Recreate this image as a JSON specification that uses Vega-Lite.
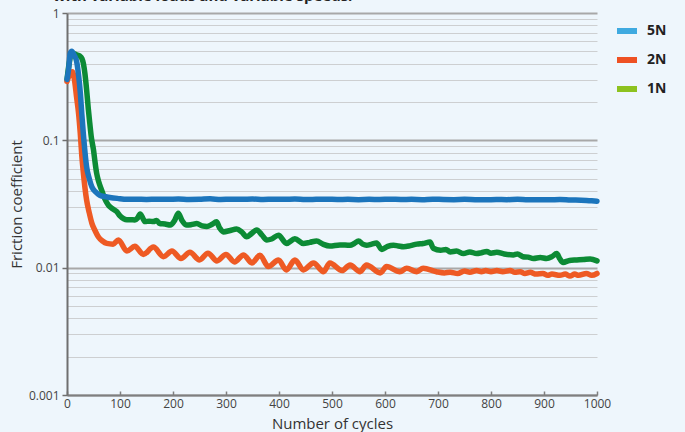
{
  "$schema": "https://vega.github.io/schema/vega-lite/v6.json",
  "autosize": {"type": "none"},
  "padding": {"left": 67, "top": 13, "right": 88, "bottom": 37},
  "width": 530,
  "height": 382,
  "background": "#EEF6FC",
  "title": {"text": "with variable loads and variable speeds.", "anchor": "start", "frame": "group", "offset": 3, "dx": -14, "fontSize": 15, "fontWeight": "bold", "font": "Open Sans", "color": "#222222"},
  "config": {"view": {"stroke": null}, "font": "Open Sans"},
  "data": {"values": [
    {"c":0,"v":0.30,"s":"5N"},{"c":3,"v":0.36,"s":"5N"},{"c":6,"v":0.48,"s":"5N"},{"c":9,"v":0.50,"s":"5N"},{"c":13,"v":0.47,"s":"5N"},{"c":18,"v":0.42,"s":"5N"},{"c":22,"v":0.32,"s":"5N"},{"c":25,"v":0.24,"s":"5N"},{"c":28,"v":0.16,"s":"5N"},{"c":31,"v":0.11,"s":"5N"},{"c":34,"v":0.08,"s":"5N"},{"c":37,"v":0.062,"s":"5N"},{"c":42,"v":0.05,"s":"5N"},{"c":47,"v":0.043,"s":"5N"},{"c":55,"v":0.039,"s":"5N"},{"c":62,"v":0.037,"s":"5N"},{"c":70,"v":0.0362,"s":"5N"},{"c":81,"v":0.0356,"s":"5N"},{"c":95,"v":0.035,"s":"5N"},{"c":113,"v":0.0344,"s":"5N"},{"c":130,"v":0.0345,"s":"5N"},{"c":150,"v":0.0343,"s":"5N"},{"c":170,"v":0.0345,"s":"5N"},{"c":190,"v":0.0344,"s":"5N"},{"c":210,"v":0.0346,"s":"5N"},{"c":230,"v":0.0343,"s":"5N"},{"c":250,"v":0.0344,"s":"5N"},{"c":270,"v":0.0347,"s":"5N"},{"c":290,"v":0.0343,"s":"5N"},{"c":310,"v":0.0345,"s":"5N"},{"c":330,"v":0.0344,"s":"5N"},{"c":350,"v":0.0346,"s":"5N"},{"c":370,"v":0.0343,"s":"5N"},{"c":390,"v":0.0345,"s":"5N"},{"c":410,"v":0.0344,"s":"5N"},{"c":430,"v":0.0346,"s":"5N"},{"c":450,"v":0.0343,"s":"5N"},{"c":470,"v":0.0344,"s":"5N"},{"c":490,"v":0.0345,"s":"5N"},{"c":510,"v":0.0343,"s":"5N"},{"c":530,"v":0.0344,"s":"5N"},{"c":550,"v":0.0342,"s":"5N"},{"c":570,"v":0.0344,"s":"5N"},{"c":590,"v":0.0343,"s":"5N"},{"c":610,"v":0.0345,"s":"5N"},{"c":630,"v":0.0343,"s":"5N"},{"c":650,"v":0.0344,"s":"5N"},{"c":670,"v":0.0342,"s":"5N"},{"c":690,"v":0.0345,"s":"5N"},{"c":710,"v":0.0343,"s":"5N"},{"c":730,"v":0.0342,"s":"5N"},{"c":750,"v":0.0344,"s":"5N"},{"c":770,"v":0.0342,"s":"5N"},{"c":790,"v":0.0341,"s":"5N"},{"c":810,"v":0.0343,"s":"5N"},{"c":830,"v":0.0342,"s":"5N"},{"c":850,"v":0.0344,"s":"5N"},{"c":870,"v":0.0341,"s":"5N"},{"c":890,"v":0.0342,"s":"5N"},{"c":910,"v":0.0341,"s":"5N"},{"c":930,"v":0.0343,"s":"5N"},{"c":950,"v":0.034,"s":"5N"},{"c":970,"v":0.0339,"s":"5N"},{"c":985,"v":0.0336,"s":"5N"},{"c":1000,"v":0.0333,"s":"5N"},
    {"c":0,"v":0.29,"s":"2N"},{"c":5,"v":0.33,"s":"2N"},{"c":10,"v":0.345,"s":"2N"},{"c":14,"v":0.30,"s":"2N"},{"c":18,"v":0.22,"s":"2N"},{"c":22,"v":0.16,"s":"2N"},{"c":25,"v":0.114,"s":"2N"},{"c":28,"v":0.075,"s":"2N"},{"c":31,"v":0.055,"s":"2N"},{"c":34,"v":0.042,"s":"2N"},{"c":37,"v":0.034,"s":"2N"},{"c":42,"v":0.027,"s":"2N"},{"c":47,"v":0.0223,"s":"2N"},{"c":53,"v":0.0195,"s":"2N"},{"c":59,"v":0.0175,"s":"2N"},{"c":67,"v":0.0162,"s":"2N"},{"c":75,"v":0.0155,"s":"2N"},{"c":87,"v":0.0153,"s":"2N"},{"c":97,"v":0.0165,"s":"2N"},{"c":113,"v":0.0135,"s":"2N"},{"c":128,"v":0.0147,"s":"2N"},{"c":144,"v":0.0127,"s":"2N"},{"c":163,"v":0.0145,"s":"2N"},{"c":182,"v":0.0122,"s":"2N"},{"c":198,"v":0.0135,"s":"2N"},{"c":215,"v":0.0118,"s":"2N"},{"c":232,"v":0.0132,"s":"2N"},{"c":250,"v":0.0115,"s":"2N"},{"c":266,"v":0.013,"s":"2N"},{"c":283,"v":0.0113,"s":"2N"},{"c":300,"v":0.0127,"s":"2N"},{"c":316,"v":0.0111,"s":"2N"},{"c":333,"v":0.0126,"s":"2N"},{"c":349,"v":0.0109,"s":"2N"},{"c":364,"v":0.0125,"s":"2N"},{"c":380,"v":0.0102,"s":"2N"},{"c":399,"v":0.0115,"s":"2N"},{"c":414,"v":0.0096,"s":"2N"},{"c":430,"v":0.0115,"s":"2N"},{"c":446,"v":0.0096,"s":"2N"},{"c":465,"v":0.0109,"s":"2N"},{"c":484,"v":0.0093,"s":"2N"},{"c":496,"v":0.0109,"s":"2N"},{"c":519,"v":0.0095,"s":"2N"},{"c":534,"v":0.0105,"s":"2N"},{"c":553,"v":0.0093,"s":"2N"},{"c":565,"v":0.0105,"s":"2N"},{"c":591,"v":0.0091,"s":"2N"},{"c":603,"v":0.0102,"s":"2N"},{"c":628,"v":0.0093,"s":"2N"},{"c":641,"v":0.0099,"s":"2N"},{"c":660,"v":0.0093,"s":"2N"},{"c":672,"v":0.0099,"s":"2N"},{"c":697,"v":0.0093,"s":"2N"},{"c":712,"v":0.0091,"s":"2N"},{"c":723,"v":0.0092,"s":"2N"},{"c":737,"v":0.0090,"s":"2N"},{"c":750,"v":0.0094,"s":"2N"},{"c":760,"v":0.0092,"s":"2N"},{"c":773,"v":0.0095,"s":"2N"},{"c":782,"v":0.0093,"s":"2N"},{"c":790,"v":0.0095,"s":"2N"},{"c":800,"v":0.0093,"s":"2N"},{"c":811,"v":0.0095,"s":"2N"},{"c":822,"v":0.0093,"s":"2N"},{"c":836,"v":0.0095,"s":"2N"},{"c":845,"v":0.0092,"s":"2N"},{"c":855,"v":0.0093,"s":"2N"},{"c":864,"v":0.009,"s":"2N"},{"c":874,"v":0.0092,"s":"2N"},{"c":885,"v":0.0089,"s":"2N"},{"c":898,"v":0.009,"s":"2N"},{"c":907,"v":0.0087,"s":"2N"},{"c":915,"v":0.0089,"s":"2N"},{"c":930,"v":0.0087,"s":"2N"},{"c":940,"v":0.0089,"s":"2N"},{"c":949,"v":0.0086,"s":"2N"},{"c":958,"v":0.0089,"s":"2N"},{"c":965,"v":0.0087,"s":"2N"},{"c":980,"v":0.009,"s":"2N"},{"c":990,"v":0.0087,"s":"2N"},{"c":1000,"v":0.009,"s":"2N"},
    {"c":0,"v":0.30,"s":"1N"},{"c":4,"v":0.40,"s":"1N"},{"c":8,"v":0.47,"s":"1N"},{"c":12,"v":0.48,"s":"1N"},{"c":18,"v":0.47,"s":"1N"},{"c":24,"v":0.46,"s":"1N"},{"c":28,"v":0.44,"s":"1N"},{"c":31,"v":0.40,"s":"1N"},{"c":34,"v":0.33,"s":"1N"},{"c":37,"v":0.25,"s":"1N"},{"c":40,"v":0.18,"s":"1N"},{"c":43,"v":0.136,"s":"1N"},{"c":46,"v":0.105,"s":"1N"},{"c":50,"v":0.084,"s":"1N"},{"c":53,"v":0.067,"s":"1N"},{"c":56,"v":0.055,"s":"1N"},{"c":60,"v":0.047,"s":"1N"},{"c":65,"v":0.041,"s":"1N"},{"c":71,"v":0.035,"s":"1N"},{"c":78,"v":0.031,"s":"1N"},{"c":86,"v":0.029,"s":"1N"},{"c":94,"v":0.0275,"s":"1N"},{"c":100,"v":0.0255,"s":"1N"},{"c":107,"v":0.0242,"s":"1N"},{"c":113,"v":0.0238,"s":"1N"},{"c":120,"v":0.0238,"s":"1N"},{"c":128,"v":0.0237,"s":"1N"},{"c":133,"v":0.0245,"s":"1N"},{"c":138,"v":0.0264,"s":"1N"},{"c":143,"v":0.0245,"s":"1N"},{"c":147,"v":0.023,"s":"1N"},{"c":155,"v":0.0232,"s":"1N"},{"c":163,"v":0.023,"s":"1N"},{"c":169,"v":0.0235,"s":"1N"},{"c":175,"v":0.0222,"s":"1N"},{"c":185,"v":0.022,"s":"1N"},{"c":195,"v":0.0216,"s":"1N"},{"c":203,"v":0.0235,"s":"1N"},{"c":210,"v":0.0267,"s":"1N"},{"c":217,"v":0.0235,"s":"1N"},{"c":226,"v":0.0216,"s":"1N"},{"c":235,"v":0.0218,"s":"1N"},{"c":245,"v":0.0222,"s":"1N"},{"c":255,"v":0.0213,"s":"1N"},{"c":264,"v":0.0211,"s":"1N"},{"c":273,"v":0.0218,"s":"1N"},{"c":282,"v":0.0229,"s":"1N"},{"c":288,"v":0.0205,"s":"1N"},{"c":295,"v":0.0191,"s":"1N"},{"c":308,"v":0.0196,"s":"1N"},{"c":320,"v":0.0201,"s":"1N"},{"c":330,"v":0.019,"s":"1N"},{"c":339,"v":0.0175,"s":"1N"},{"c":348,"v":0.0185,"s":"1N"},{"c":358,"v":0.0198,"s":"1N"},{"c":368,"v":0.018,"s":"1N"},{"c":377,"v":0.0165,"s":"1N"},{"c":386,"v":0.0168,"s":"1N"},{"c":399,"v":0.018,"s":"1N"},{"c":414,"v":0.0155,"s":"1N"},{"c":430,"v":0.0169,"s":"1N"},{"c":446,"v":0.0155,"s":"1N"},{"c":458,"v":0.0158,"s":"1N"},{"c":471,"v":0.0162,"s":"1N"},{"c":483,"v":0.0153,"s":"1N"},{"c":496,"v":0.0148,"s":"1N"},{"c":515,"v":0.0151,"s":"1N"},{"c":534,"v":0.015,"s":"1N"},{"c":542,"v":0.0155,"s":"1N"},{"c":550,"v":0.0162,"s":"1N"},{"c":558,"v":0.0153,"s":"1N"},{"c":565,"v":0.015,"s":"1N"},{"c":575,"v":0.0153,"s":"1N"},{"c":584,"v":0.0156,"s":"1N"},{"c":594,"v":0.0139,"s":"1N"},{"c":605,"v":0.0147,"s":"1N"},{"c":616,"v":0.015,"s":"1N"},{"c":625,"v":0.0148,"s":"1N"},{"c":635,"v":0.0146,"s":"1N"},{"c":648,"v":0.0149,"s":"1N"},{"c":660,"v":0.0153,"s":"1N"},{"c":672,"v":0.0155,"s":"1N"},{"c":685,"v":0.0159,"s":"1N"},{"c":691,"v":0.0142,"s":"1N"},{"c":705,"v":0.0137,"s":"1N"},{"c":715,"v":0.0139,"s":"1N"},{"c":723,"v":0.0133,"s":"1N"},{"c":735,"v":0.0135,"s":"1N"},{"c":748,"v":0.0129,"s":"1N"},{"c":760,"v":0.0133,"s":"1N"},{"c":773,"v":0.0129,"s":"1N"},{"c":782,"v":0.0131,"s":"1N"},{"c":792,"v":0.0134,"s":"1N"},{"c":800,"v":0.013,"s":"1N"},{"c":811,"v":0.0132,"s":"1N"},{"c":825,"v":0.0128,"s":"1N"},{"c":842,"v":0.0126,"s":"1N"},{"c":850,"v":0.0128,"s":"1N"},{"c":860,"v":0.0122,"s":"1N"},{"c":870,"v":0.0121,"s":"1N"},{"c":880,"v":0.0118,"s":"1N"},{"c":893,"v":0.012,"s":"1N"},{"c":905,"v":0.0118,"s":"1N"},{"c":915,"v":0.0122,"s":"1N"},{"c":924,"v":0.0129,"s":"1N"},{"c":930,"v":0.0117,"s":"1N"},{"c":936,"v":0.011,"s":"1N"},{"c":948,"v":0.0114,"s":"1N"},{"c":962,"v":0.0115,"s":"1N"},{"c":975,"v":0.0116,"s":"1N"},{"c":987,"v":0.0117,"s":"1N"},{"c":1000,"v":0.0113,"s":"1N"}
  ]},
  "encoding": {
    "x": {"field": "c", "type": "quantitative", "scale": {"domain": [0, 1000], "nice": false},
      "axis": {"values": [0,100,200,300,400,500,600,700,800,900,1000], "format": "d", "grid": false, "title": "Number of cycles", "titleFontSize": 15, "titleFontWeight": "normal", "titleColor": "#333333", "titlePadding": 7, "labelFontSize": 12, "labelColor": "#444444", "labelPadding": 7, "domainColor": "#7F7F7F", "domainWidth": 2, "tickColor": "#7F7F7F", "tickWidth": 1.5, "tickSize": -4, "labelFlush": false}},
    "y": {"field": "v", "type": "quantitative", "scale": {"type": "log", "domain": [0.001, 1], "nice": false},
      "axis": {"values": [0.001,0.002,0.003,0.004,0.005,0.006,0.007,0.008,0.009,0.01,0.02,0.03,0.04,0.05,0.06,0.07,0.08,0.09,0.1,0.2,0.3,0.4,0.5,0.6,0.7,0.8,0.9,1],
        "format": "~g",
        "labelExpr": "(datum.value == 1 || datum.value == 0.1 || datum.value == 0.01 || datum.value == 0.001) ? datum.label : ''",
        "labelOverlap": false, "labelFontSize": 12, "labelColor": "#444444", "labelPadding": 3,
        "grid": true,
        "gridColor": {"condition": {"test": "datum.value == 1 || datum.value == 0.1 || datum.value == 0.01 || datum.value == 0.001", "value": "#A8A8A8"}, "value": "#CDCFD1"},
        "gridWidth": {"condition": {"test": "datum.value == 1 || datum.value == 0.1 || datum.value == 0.01 || datum.value == 0.001", "value": 2}, "value": 1.2},
        "tickOpacity": {"condition": {"test": "datum.value == 1 || datum.value == 0.1 || datum.value == 0.01 || datum.value == 0.001", "value": 1}, "value": 0},
        "tickColor": "#6F6F6F", "tickWidth": 1.5, "tickSize": 5,
        "domainColor": "#6F6F6F", "domainWidth": 2,
        "title": "Friction coefficient", "titleFontSize": 15, "titleFontWeight": "normal", "titleColor": "#333333", "titlePadding": 4}},
    "color": {"field": "s", "type": "nominal", "scale": {"domain": ["5N", "2N", "1N"], "range": ["#1C75BC", "#EE5A24", "#0C8B35"]},
      "legend": {"title": null, "orient": "none", "legendX": 550, "legendY": 8,
        "symbolType": "M-1,-0.3H1V0.3H-1Z", "symbolSize": 400, "symbolStrokeWidth": 0,
        "labelFontSize": 14, "labelFontWeight": "bold", "labelColor": "#222222", "labelOffset": 10, "rowPadding": 12,
        "encode": {"symbols": {"update": {"fill": {"signal": "datum.value === '5N' ? '#3FAAE0' : datum.value === '2N' ? '#EE5123' : '#8DC21F'"}, "stroke": {"value": "transparent"}, "opacity": {"value": 1}}}}}}
  },
  "layer": [
    {"transform": [{"filter": "datum.s === '1N'"}], "mark": {"type": "line", "strokeWidth": 5.5, "interpolate": "monotone", "strokeJoin": "round", "strokeCap": "round"}},
    {"transform": [{"filter": "datum.s === '2N'"}], "mark": {"type": "line", "strokeWidth": 5.5, "interpolate": "monotone", "strokeJoin": "round", "strokeCap": "round"}},
    {"transform": [{"filter": "datum.s === '5N'"}], "mark": {"type": "line", "strokeWidth": 5.5, "interpolate": "monotone", "strokeJoin": "round", "strokeCap": "round"}}
  ]
}
